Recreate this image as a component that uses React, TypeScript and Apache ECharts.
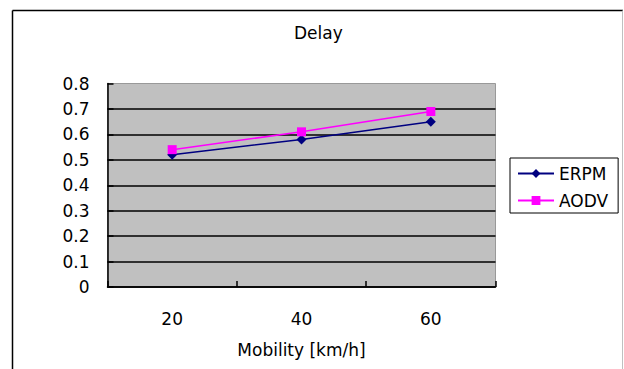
import React, { useEffect, useRef } from "react";
import * as echarts from "echarts";

const categories = ["20", "40", "60"];
const erpmValues = [0.52, 0.58, 0.65];
const aodvValues = [0.54, 0.61, 0.69];
const seriesNames = ["ERPM", "AODV"];
const titleText = "Delay";
const xAxisName = "Mobility [km/h]";

const FONT = "DejaVu Sans";

export default function App() {
  const ref = useRef<HTMLDivElement>(null);
  useEffect(() => {
    if (!ref.current) return;
    const chart = echarts.init(ref.current, null, { renderer: "svg" });
    chart.setOption({
      animation: false,
      backgroundColor: "#ffffff",
      textStyle: { fontFamily: FONT },
      title: {
        text: titleText,
        left: 294,
        top: 24,
        padding: 0,
        textStyle: { fontFamily: FONT, fontSize: 17, fontWeight: "normal", color: "#000" },
      },
      graphic: [
        { type: "line", shape: { x1: 12.5, y1: 10.5, x2: 623, y2: 10.5 }, style: { stroke: "#000", lineWidth: 1.5 } },
        { type: "line", shape: { x1: 12.5, y1: 10.5, x2: 12.5, y2: 369 }, style: { stroke: "#000", lineWidth: 1.5 } },
        { type: "line", shape: { x1: 622.5, y1: 10.5, x2: 622.5, y2: 369 }, style: { stroke: "#c0c0c0", lineWidth: 1 } },
      ],
      legend: {
        orient: "vertical",
        left: 510,
        top: 158,
        padding: [7, 10, 4, 7],
        itemGap: 10,
        itemWidth: 36,
        itemHeight: 11,
        borderColor: "#000",
        borderWidth: 1,
        backgroundColor: "#fff",
        textStyle: { fontFamily: FONT, fontSize: 17, color: "#000" },
        data: seriesNames,
      },
      grid: {
        left: 107.5,
        right: 128.5,
        top: 83.5,
        bottom: 82,
        show: true,
        backgroundColor: "#c0c0c0",
        borderColor: "#999999",
        borderWidth: 1,
      },
      xAxis: {
        type: "category",
        data: categories,
        boundaryGap: true,
        name: xAxisName,
        nameLocation: "middle",
        nameGap: 54,
        nameTextStyle: { fontFamily: FONT, fontSize: 17, color: "#000" },
        axisLine: { show: true, lineStyle: { color: "#000", width: 1.5 } },
        axisTick: { show: true, inside: true, length: 6, lineStyle: { color: "#000", width: 1.5 } },
        axisLabel: { fontFamily: FONT, fontSize: 17, color: "#000", margin: 23 },
        splitLine: { show: false },
      },
      yAxis: {
        type: "value",
        min: 0,
        max: 0.8,
        interval: 0.1,
        axisLine: { show: true, lineStyle: { color: "#000", width: 1.5 } },
        axisTick: { show: true, inside: true, length: 6, lineStyle: { color: "#000", width: 1.5 } },
        axisLabel: {
          fontFamily: FONT,
          fontSize: 17,
          color: "#000",
          margin: 18,
          formatter: (v: number) => (v === 0 ? "0" : v.toFixed(1)),
        },
        splitLine: { show: true, showMaxLine: false, lineStyle: { color: "#000", width: 1.5 } },
      },
      series: [
        {
          name: seriesNames[0],
          type: "line",
          data: erpmValues,
          symbol: "diamond",
          symbolSize: 10,
          lineStyle: { color: "#000080", width: 1.5 },
          itemStyle: { color: "#000080" },
        },
        {
          name: seriesNames[1],
          type: "line",
          data: aodvValues,
          symbol: "rect",
          symbolSize: 9,
          lineStyle: { color: "#ff00ff", width: 1.5 },
          itemStyle: { color: "#ff00ff" },
        },
      ],
    });
    return () => chart.dispose();
  }, []);
  return (
    <div
      ref={ref}
      style={{ position: "fixed", left: 0, top: 0, width: 624, height: 369 }}
    />
  );
}
